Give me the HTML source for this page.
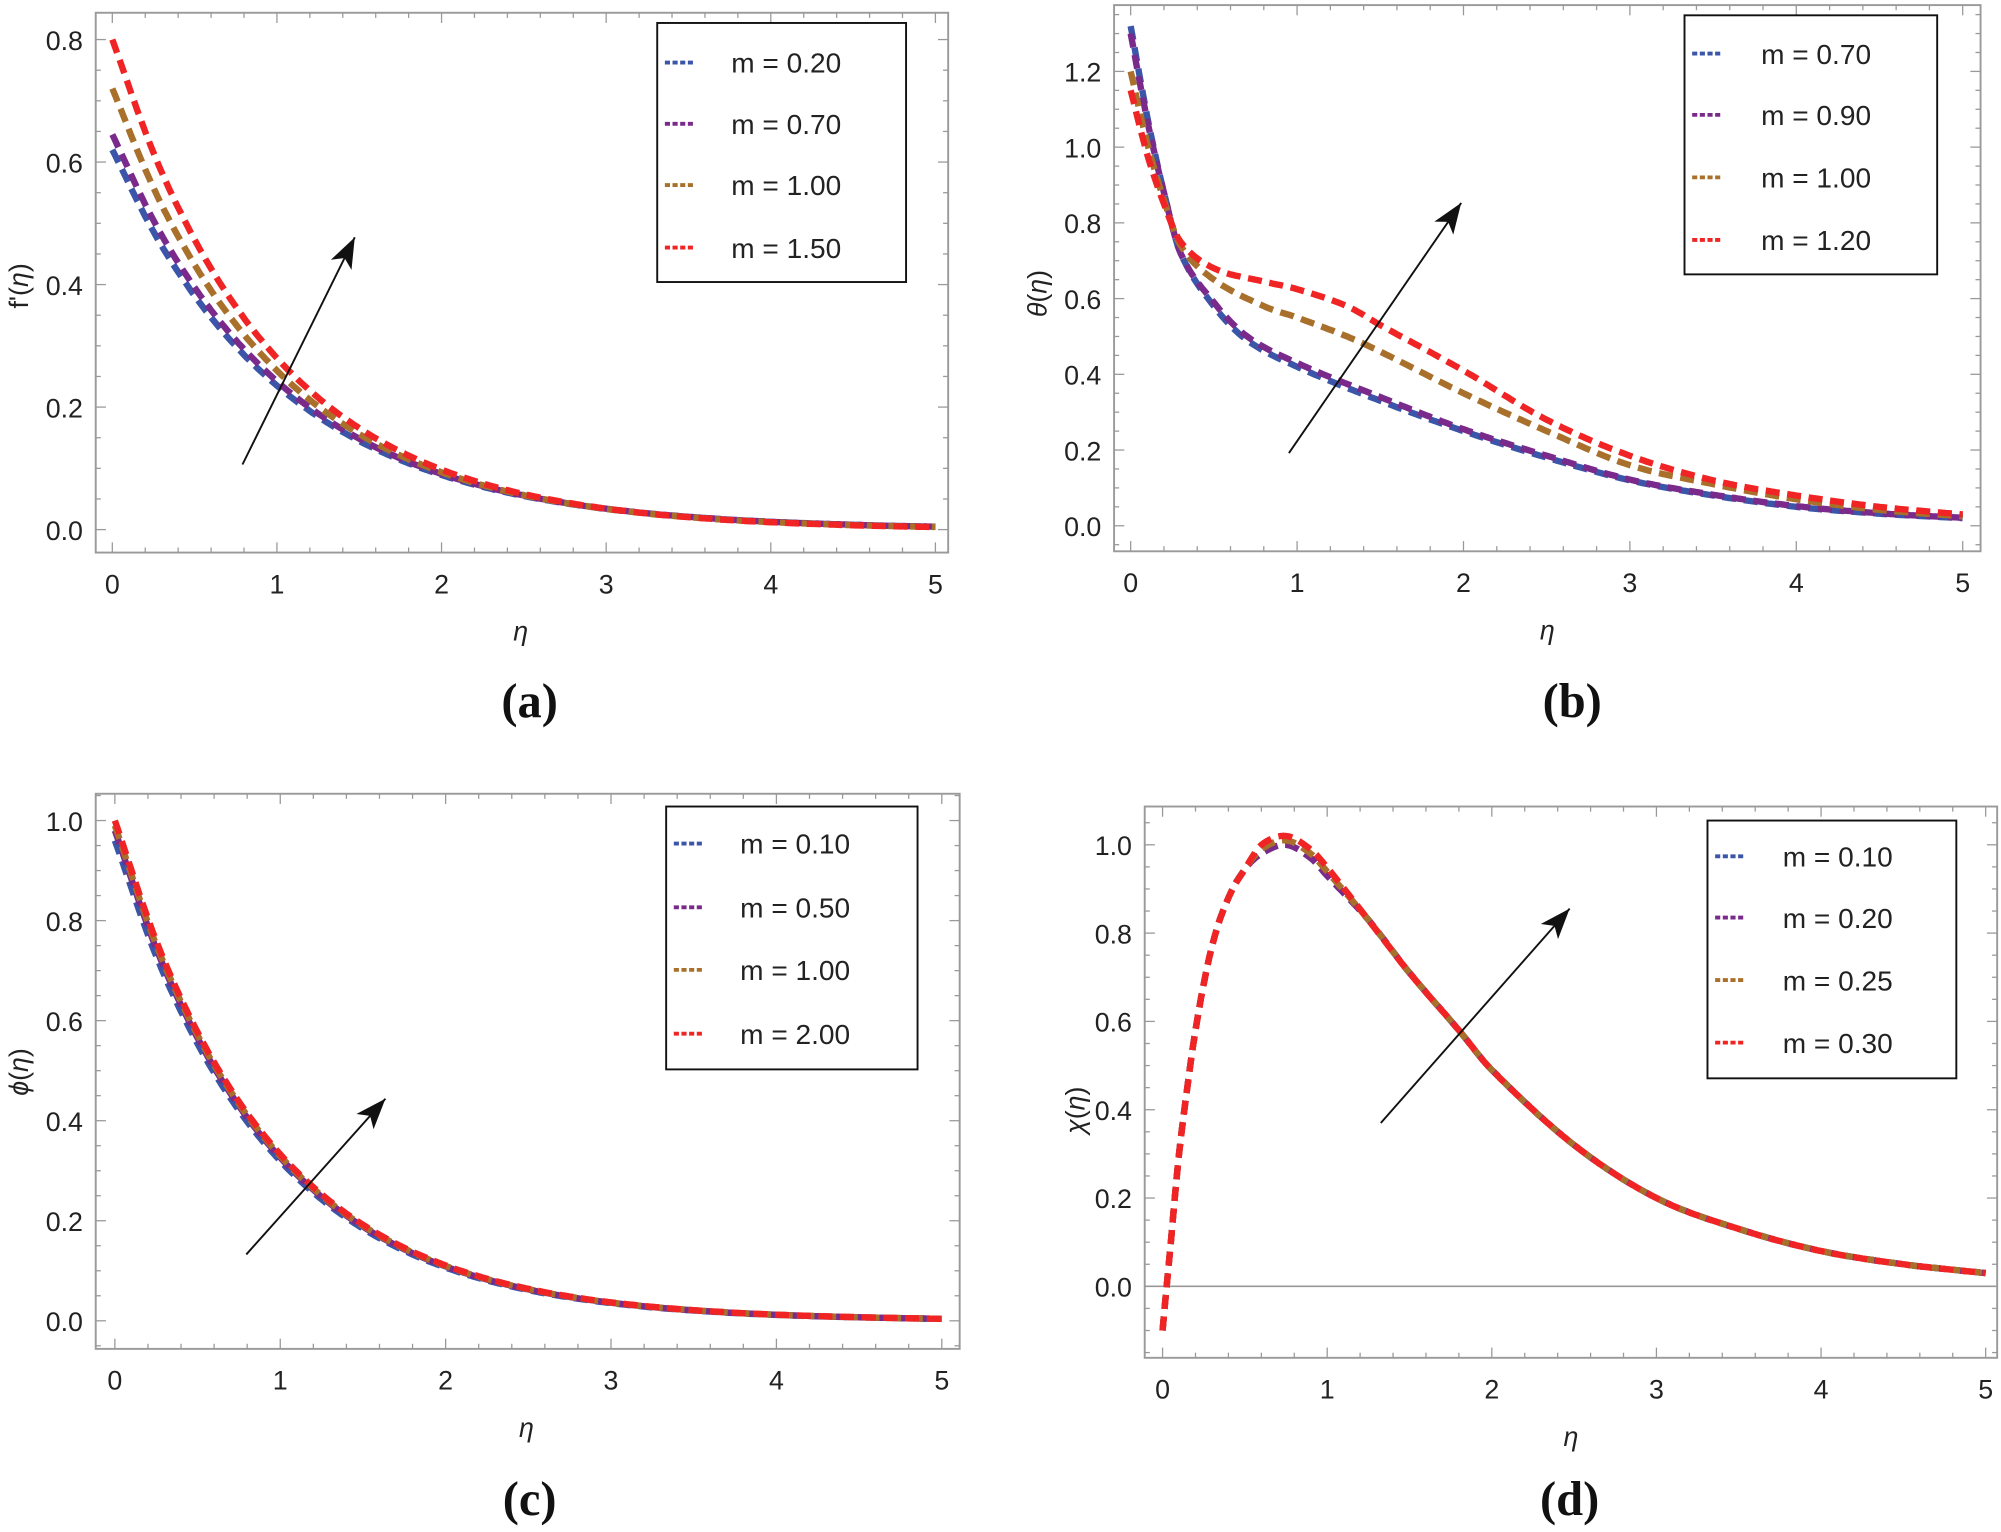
<!DOCTYPE html>
<html><head><meta charset="utf-8"><style>
html,body{margin:0;padding:0;background:#fff;}
svg{display:block;}
text{font-family:"Liberation Sans",sans-serif;fill:#222;}
.cap{font-family:"Liberation Serif",serif;font-weight:bold;font-size:38px;fill:#111;}
</style></head><body>
<svg id="s" width="2001" height="1532" viewBox="0 0 1568 1200.5" xmlns="http://www.w3.org/2000/svg">
<defs><marker id="ah" viewBox="0 0 10 10" refX="9" refY="5" markerWidth="12" markerHeight="10" markerUnits="userSpaceOnUse" orient="auto"><path d="M0,0 L10,5 L0,10 z" fill="#111"/></marker></defs>
<text class="cap" x="415" y="562" text-anchor="middle">(a)</text>
<text class="cap" x="1232" y="562" text-anchor="middle">(b)</text>
<text class="cap" x="415" y="1187" text-anchor="middle">(c)</text>
<text class="cap" x="1230" y="1187" text-anchor="middle">(d)</text>
</svg>
<script>
const S=document.getElementById('s'),NS='http://www.w3.org/2000/svg';
function el(t,a,txt){const e=document.createElementNS(NS,t);for(const k in a)e.setAttribute(k,a[k]);if(txt!==undefined)e.textContent=txt;S.appendChild(e);return e;}
const COLS=['#3b55a8','#7a2a8a','#a8702a','#f02424'];
function interp(pts,x){for(let i=0;i<pts.length-1;i++){const[a,b]=[pts[i],pts[i+1]];if(x>=a[0]&&x<=b[0]){
 const p0=pts[Math.max(i-1,0)],p3=pts[Math.min(i+2,pts.length-1)];const t=(x-a[0])/(b[0]-a[0]);
 const m1=(b[1]-p0[1])/(b[0]-p0[0])*(b[0]-a[0]),m2=(p3[1]-a[1])/(p3[0]-a[0])*(b[0]-a[0]);
 const t2=t*t,t3=t2*t;return (2*t3-3*t2+1)*a[1]+(t3-2*t2+t)*m1+(-2*t3+3*t2)*b[1]+(t3-t2)*m2;}}return pts[pts.length-1][1];}
function panel(P){
 const X=v=>P.x0+(P.x5-P.x0)*v/5, Y=v=>P.y0-P.sy*v;
 el('rect',{x:P.fx1,y:P.fy1,width:P.fx2-P.fx1,height:P.fy2-P.fy1,fill:'none',stroke:'#9a9a9a','stroke-width':1.5});
 for(let i=0;i<=25;i++){const v=i/5,x=X(v),L=i%5==0?8:4;
  el('line',{x1:x,y1:P.fy2,x2:x,y2:P.fy2-L,stroke:'#999','stroke-width':1});
  el('line',{x1:x,y1:P.fy1,x2:x,y2:P.fy1+L,stroke:'#999','stroke-width':1});
  if(i%5==0)el('text',{x:x,y:P.fy2+32,'text-anchor':'middle','font-size':21},String(v));}
 for(let v=P.ymin;v<=P.ymax+1e-9;v+=P.minor){const y=Y(v);if(y<P.fy1||y>P.fy2)continue;
  const maj=Math.abs(Math.round(v/P.major)*P.major-v)<1e-6,L=maj?8:4;
  el('line',{x1:P.fx1,y1:y,x2:P.fx1+L,y2:y,stroke:'#999','stroke-width':1});
  el('line',{x1:P.fx2,y1:y,x2:P.fx2-L,y2:y,stroke:'#999','stroke-width':1});
  if(maj)el('text',{x:P.fx1-10,y:y+8,'text-anchor':'end','font-size':21},v.toFixed(1));}
 if(P.zero)el('line',{x1:P.fx1,y1:Y(0),x2:P.fx2,y2:Y(0),stroke:'#999','stroke-width':1.3});
 P.series.forEach((pts,k)=>{let d='';const x0=pts[0][0];for(let i=0;i<=300;i++){const x=x0+(5-x0)*i/300;d+=(i?'L':'M')+X(x).toFixed(1)+','+Y(interp(pts,x)).toFixed(1);}
  el('path',{d:d,fill:'none',stroke:COLS[k],'stroke-width':5,'stroke-dasharray':'11 6'});});
 el('rect',{x:P.lg[0],y:P.lg[1],width:P.lg[2]-P.lg[0],height:P.lg[3]-P.lg[1],fill:'#fff',stroke:'#111','stroke-width':1.5});
 P.labels.forEach((t,k)=>{const y=P.ly[k];el('line',{x1:P.lg[0]+6,y1:y,x2:P.lg[0]+30,y2:y,stroke:COLS[k],'stroke-width':3,'stroke-dasharray':'4 2'});
  el('text',{x:P.tx,y:y+8,'font-size':22},t);});
 el('line',{x1:P.ar[0],y1:P.ar[1],x2:P.ar[2],y2:P.ar[3],stroke:'#111','stroke-width':1.5});
 const dx=P.ar[2]-P.ar[0],dy=P.ar[3]-P.ar[1],l=Math.hypot(dx,dy),ux=dx/l,uy=dy/l,L=24,W=9;
 const bx=P.ar[2]-ux*L,by=P.ar[3]-uy*L;
 el('path',{d:`M${P.ar[2]},${P.ar[3]} L${bx-uy*W},${by+ux*W} L${bx+ux*6},${by+uy*6} L${bx+uy*W},${by-ux*W} z`,fill:'#111'});
 el('text',{x:(P.fx1+P.fx2)/2+P.exo,y:P.fy2+69,'text-anchor':'middle','font-size':21,'font-style':'italic'},'η');
 const t=el('text',{x:P.ylx,y:P.yly,'text-anchor':'middle','font-size':21,transform:`rotate(-90 ${P.ylx} ${P.yly})`});
 t.innerHTML=P.ylab;
}
function expS(a,k){return Array.from({length:21},(_,i)=>{const x=i/4;return[x,a*Math.exp(-k*x)];});}
panel({fx1:75,fy1:10,fx2:743,fy2:433,x0:88,x5:733,y0:415,sy:480,ymin:-0.05,ymax:0.85,minor:0.05,major:0.2,
 series:[expS(0.62,0.97),expS(0.645,0.98),expS(0.72,1.02),expS(0.8,1.05)],
 lg:[515,18,710,221],ly:[49,97,145,194],tx:573,labels:['m = 0.20','m = 0.70','m = 1.00','m = 1.50'],
 ar:[190,364,278,186],exo:-1,ylx:22,yly:224,ylab:'f\'(<tspan font-style="italic">η</tspan>)'});
panel({fx1:873,fy1:4,fx2:1552,fy2:432,x0:886,x5:1538,y0:412,sy:296.7,ymin:-0.05,ymax:1.35,minor:0.05,major:0.2,
 series:[
 [[0,1.32],[0.1,1.08],[0.2,0.88],[0.3,0.72],[0.5,0.58],[0.7,0.49],[1,0.42],[1.5,0.33],[2,0.25],[2.5,0.18],[3,0.12],[3.5,0.08],[4,0.05],[4.5,0.032],[5,0.02]],
 [[0,1.30],[0.1,1.07],[0.2,0.88],[0.3,0.72],[0.5,0.59],[0.7,0.5],[1,0.43],[1.5,0.34],[2,0.255],[2.5,0.185],[3,0.122],[3.5,0.082],[4,0.052],[4.5,0.033],[5,0.021]],
 [[0,1.2],[0.1,1.01],[0.2,0.86],[0.3,0.74],[0.5,0.65],[0.8,0.58],[1,0.55],[1.3,0.5],[1.5,0.46],[2,0.35],[2.5,0.25],[3,0.16],[3.5,0.11],[4,0.07],[4.5,0.042],[5,0.025]],
 [[0,1.15],[0.1,0.98],[0.2,0.85],[0.3,0.75],[0.5,0.68],[0.8,0.645],[1,0.625],[1.3,0.58],[1.5,0.53],[2,0.41],[2.5,0.28],[3,0.185],[3.5,0.12],[4,0.08],[4.5,0.05],[5,0.03]]],
 lg:[1320,12,1518,215],ly:[42,90,139,188],tx:1380,labels:['m = 0.70','m = 0.90','m = 1.00','m = 1.20'],
 ar:[1010,355,1145,159],exo:0,ylx:820,yly:230,ylab:'<tspan font-style="italic">θ</tspan>(<tspan font-style="italic">η</tspan>)'});
panel({fx1:75,fy1:622,fx2:752,fy2:1057,x0:90,x5:738,y0:1035,sy:392,ymin:-0.05,ymax:1.05,minor:0.05,major:0.2,
 series:[expS(0.96,1.1),expS(0.98,1.1),expS(0.99,1.1),expS(1.0,1.1)],
 lg:[522,632,719,838],ly:[661,711,760,810],tx:580,labels:['m = 0.10','m = 0.50','m = 1.00','m = 2.00'],
 ar:[193,983,302,861],exo:-1,ylx:22,yly:840,ylab:'<tspan font-style="italic">ϕ</tspan>(<tspan font-style="italic">η</tspan>)'});
const chi=s=>[[0,-0.1],[0.05,0.1],[0.1,0.3],[0.2,0.58],[0.3,0.77],[0.4,0.88],[0.5,0.945],[0.6,0.98*s],[0.75,1.0*s],[0.9,0.97*s],[1,0.93*s],[1.25,0.83],[1.5,0.71],[1.8,0.58],[2,0.49],[2.5,0.32],[3,0.2],[3.5,0.13],[4,0.08],[4.5,0.05],[5,0.03]];
panel({fx1:897,fy1:632,fx2:1565,fy2:1064,x0:911,x5:1556,y0:1008,sy:346,ymin:-0.15,ymax:1.05,minor:0.05,major:0.2,zero:true,
 series:[chi(1),chi(1),chi(1.01),chi(1.02)],
 lg:[1338,643,1533,845],ly:[671,719,768,817],tx:1397,labels:['m = 0.10','m = 0.20','m = 0.25','m = 0.30'],
 ar:[1082,880,1230,712],exo:0,ylx:850,yly:870,ylab:'<tspan font-style="italic">χ</tspan>(<tspan font-style="italic">η</tspan>)'});
</script>
</body></html>
